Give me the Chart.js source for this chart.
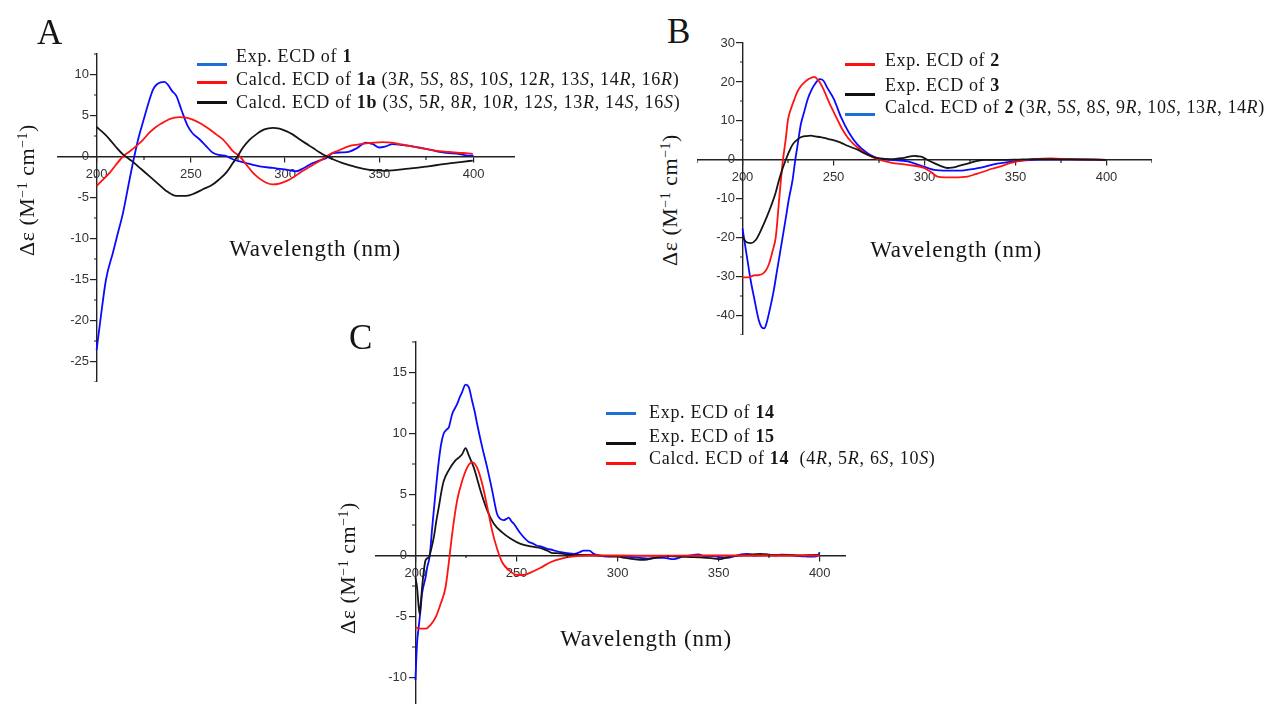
<!DOCTYPE html>
<html>
<head>
<meta charset="utf-8">
<script src="https://cdn.jsdelivr.net/npm/chart.js@4.4.1/dist/chart.umd.min.js"></script>
<style>
  html, body { margin:0; padding:0; background:#fff; overflow:hidden; }
  #page { position:relative; width:1268px; height:704px; font-family:"Liberation Serif","Times New Roman",serif; color:#161616; }
  canvas { position:absolute; }
  .t { position:absolute; white-space:nowrap; line-height:1; }
  .panel { font-size:35px; }
  .xt { font-size:23px; letter-spacing:0.8px; transform:translate(-50%,-50%); }
  .yt { font-size:22px; letter-spacing:0.5px; transform:translate(-50%,-50%) rotate(-90deg); }
  .yt sup { font-size:14px; vertical-align:7px; }
  .leg { font-size:18px; letter-spacing:0.7px; }
  .legB { letter-spacing:0.6px; }
  .sw { position:absolute; width:30px; height:3px; }
</style>
</head>
<body>
<div id="page">
  <canvas id="chA" width="458" height="338" style="left:57px;top:44px"></canvas>
  <canvas id="chB" width="455" height="302" style="left:697px;top:33px"></canvas>
  <canvas id="chC" width="471" height="376" style="left:375px;top:332px"></canvas>

  <!-- panel letters -->
  <div class="t panel" style="left:37px;top:15px">A</div>
  <div class="t panel" style="left:667px;top:14px">B</div>
  <div class="t panel" style="left:349px;top:320px">C</div>

  <!-- axis titles -->
  <div class="t xt" style="left:315px;top:248px">Wavelength (nm)</div>
  <div class="t xt" style="left:956px;top:249px">Wavelength (nm)</div>
  <div class="t xt" style="left:646px;top:638px">Wavelength (nm)</div>
  <div class="t yt" style="left:27px;top:190px">Δε (M<sup>−1</sup> cm<sup>−1</sup>)</div>
  <div class="t yt" style="left:670px;top:200px">Δε (M<sup>−1</sup> cm<sup>−1</sup>)</div>
  <div class="t yt" style="left:348px;top:568px">Δε (M<sup>−1</sup> cm<sup>−1</sup>)</div>

  <!-- legend A -->
  <div class="sw" style="left:197px;top:63px;background:#1b6fd6"></div>
  <div class="sw" style="left:197px;top:81px;background:#ff1010"></div>
  <div class="sw" style="left:197px;top:101px;background:#111"></div>
  <div class="t leg" style="left:236px;top:47px">Exp. ECD of <b>1</b></div>
  <div class="t leg" style="left:236px;top:70px">Calcd. ECD of <b>1a</b> (3<i>R</i>, 5<i>S</i>, 8<i>S</i>, 10<i>S</i>, 12<i>R</i>, 13<i>S</i>, 14<i>R</i>, 16<i>R</i>)</div>
  <div class="t leg" style="left:236px;top:93px">Calcd. ECD of <b>1b</b> (3<i>S</i>, 5<i>R</i>, 8<i>R</i>, 10<i>R</i>, 12<i>S</i>, 13<i>R</i>, 14<i>S</i>, 16<i>S</i>)</div>

  <!-- legend B -->
  <div class="sw" style="left:845px;top:63px;background:#ff1010"></div>
  <div class="sw" style="left:845px;top:93px;background:#111"></div>
  <div class="sw" style="left:845px;top:113px;background:#1b6fd6"></div>
  <div class="t leg legB" style="left:885px;top:51px">Exp. ECD of <b>2</b></div>
  <div class="t leg legB" style="left:885px;top:76px">Exp. ECD of <b>3</b></div>
  <div class="t leg legB" style="left:885px;top:98px">Calcd. ECD of <b>2</b> (3<i>R</i>, 5<i>S</i>, 8<i>S</i>, 9<i>R</i>, 10<i>S</i>, 13<i>R</i>, 14<i>R</i>)</div>

  <!-- legend C -->
  <div class="sw" style="left:606px;top:412px;background:#1b6fd6"></div>
  <div class="sw" style="left:606px;top:442px;background:#111"></div>
  <div class="sw" style="left:606px;top:462px;background:#ff1010"></div>
  <div class="t leg" style="left:649px;top:403px">Exp. ECD of <b>14</b></div>
  <div class="t leg" style="left:649px;top:427px">Exp. ECD of <b>15</b></div>
  <div class="t leg" style="left:649px;top:449px">Calcd. ECD of <b>14</b> &nbsp;(4<i>R</i>, 5<i>R</i>, 6<i>S</i>, 10<i>S</i>)</div>
</div>

<script>
// ---- Panel A data ----
const wlA1  = [200,202,205,208.7,211,214,217.5,220,222.5,225,227.5,230,232,234,236,238,240,242.3,245,248.4,251,254.6,258,261.7,265,268.8,272,275.9,281,286.5,293.5,300.6,305.9,310,314.7,318,321.8,325.3,330,334.2,338,343,346.6,350,353,357,362,366,371,376.7,381,385.5,392.6,396,400];
const expA1 = [-23.6,-20,-15,-11.7,-9.6,-6.9,-2.8,0,2.5,4.5,6.5,8.2,8.8,9.05,9.1,8.7,8.0,7.4,5.7,3.7,2.8,2.1,1.3,0.45,0.2,0.05,-0.3,-0.6,-0.9,-1.2,-1.4,-1.6,-1.8,-1.4,-0.8,-0.5,-0.2,0.4,0.5,0.6,1.0,1.7,1.5,1.1,1.2,1.5,1.4,1.3,1.1,0.85,0.6,0.45,0.3,0.15,0.1];

const wlA2  = [200,203,206.9,210,214,217.5,221,224.5,228,231.5,235,239,244,247.5,251,255.5,260,263.5,267,270,272.3,276,279.5,283,286.5,290,293.5,297,300.6,304,307.7,312,316.5,320,323.6,328,334,338.5,343,347.5,352,356.5,360.7,366,371,376.5,382,387,392.6,396,399.6];
const calA2 = [-3.6,-2.9,-2,-1.1,0,0.6,1.26,2.0,2.9,3.6,4.1,4.6,4.8,4.75,4.5,4.0,3.3,2.7,2.1,1.3,0.65,0,-1.0,-2,-2.7,-3.2,-3.4,-3.3,-3.0,-2.6,-2,-1.4,-0.8,-0.3,0.25,0.7,1.26,1.45,1.6,1.7,1.75,1.7,1.5,1.3,1.06,0.85,0.65,0.55,0.45,0.4,0.33];

const wlA3  = [200,203.5,206.9,210.5,214,219,223.5,228,232.5,237,242.3,247.6,252,256.4,261,265,269,272.3,275,277.6,281,284.7,289,293.5,297,300.6,304,307.7,311,314.7,318,321.8,326,330.6,335,339.5,344,348.4,353,357,363,369.6,376,382,388,394,399.6];
const calA3 = [3.6,2.9,2.1,1.1,0.25,-0.6,-1.5,-2.4,-3.3,-4.2,-4.8,-4.8,-4.5,-4.0,-3.5,-2.8,-1.9,-0.8,0.1,1.06,2.0,2.7,3.3,3.5,3.4,3.1,2.7,2.1,1.6,1.06,0.55,0.04,-0.4,-0.8,-1.1,-1.4,-1.6,-1.7,-1.75,-1.7,-1.55,-1.4,-1.2,-1.0,-0.8,-0.65,-0.5];

const xTicksA = [200,250,300,350,400];
const yTicksA = [-25,-20,-15,-10,-5,0,5,10];

// ---- Panel B data ----
const wlB1  = [200,203,206.4,209,211,213,214.6,216.5,218.3,220.1,222,223.8,225,226.7,228.4,230,232,234.3,236.6,239.4,242,244,245.8,248,250.4,252.7,255,258,261.4,265,268.7,274.2,281.5,290.7,299.8,304,307.1,311,316.3,323.6,328,332.8,337,341.9,346,351,355,360.3,369.4,378.6,387.7,400];
const expB1 = [-30.2,-30.2,-29.7,-29.6,-29.3,-28.3,-26.7,-23.5,-19.8,-10.4,-1.0,5.5,10.3,13.2,15.4,17.3,18.9,20.0,20.8,21.3,20.2,18.6,16.7,14.3,12,9.8,7.7,5.6,3.9,2.5,1.3,0.17,-0.7,-1.3,-2.1,-3.3,-4.3,-4.5,-4.5,-4.3,-3.7,-3.0,-2.3,-1.7,-1.0,-0.43,-0.1,0.17,0.34,0.17,0.1,0];

const wlB2  = [200,201.8,204.6,207.3,209,211,213.3,215.6,218,220.1,222,223.8,225.7,227.5,229.7,232,235,237.5,240,243,246.7,250.4,254,257.7,260.5,263.2,266,268.7,271.5,274.2,278,281.5,285,288.8,291.5,294.3,296.5,298.9,302,305.3,309,312.6,315,318,322,325.5,329,332.8,342,350,360.3,380,400];
const expB2 = [-19.7,-21,-21.4,-20.6,-19.2,-17.2,-14.7,-12,-8.8,-5.1,-2.3,0,2.2,3.9,5.0,5.8,6.1,6.2,6.0,5.8,5.4,5.0,4.4,3.6,3.1,2.6,1.9,1.3,0.8,0.43,0.25,0.17,0.3,0.5,0.8,1.0,0.9,0.7,-0.1,-0.86,-1.6,-2.1,-2.0,-1.7,-1.2,-0.7,-0.3,0,0,0.05,0.17,0.1,0];

const wlB3  = [200,202.7,204.5,206.4,209,210.5,212,213.3,214.5,217,219,221.3,223.6,225.5,227.5,229,230.5,232,234,236,238,240,242.5,244.5,246.7,250.4,254,258.6,263.2,268.7,274.2,281.5,290.7,298,305.3,312.6,321.8,331,340,349.3,360.3,378.6,400];
const calB3 = [-17.6,-25.7,-31,-35.5,-41.3,-43,-43.3,-41.8,-39.5,-34,-28.4,-22,-15.5,-10,-5.2,0,4.5,9,12.5,15.8,18,19.6,20.7,20.3,18.4,15.4,11.1,6.9,3.9,1.7,0.4,0,-0.4,-1.5,-2.6,-2.8,-2.7,-2.0,-1.0,-0.4,0,0.1,0];

const xTicksB = [200,250,300,350,400];
const yTicksB = [-40,-30,-20,-10,0,10,20,30];

// ---- Panel C data ----
const wlC1  = [200,200.8,201.6,202.5,203.3,205,205.8,207.1,208.3,209.9,211.6,212.8,214,215.3,216.5,218.2,220.6,222,223.1,224.8,226.4,228,229.3,230.5,233,235.5,238,240.4,242,243.7,245,246.2,247.5,248.7,252,256.1,258,260.2,262,265.2,268,271.8,275,278.4,281,283.2,286,288.2,291,294.8,300,304.7,308,311.3,315,319.5,323,327.8,332,337.7,340,343,347.6,351,354.2,358,361,364.1,368,371,374,378,381,385.6,390,393.9,397,399,400];
const expC1 = [-10.2,-7.2,-5.9,-4.5,-3.1,-1.8,-1.0,0,2.3,5.1,7.8,9.2,10,10.3,10.5,11.6,12.4,13,13.4,14.0,13.8,12.7,11.8,10.8,8.9,7.2,5.3,3.4,3.0,2.9,3.0,3.1,2.8,2.6,1.8,1.1,1.0,0.8,0.75,0.55,0.45,0.27,0.2,0.14,0.25,0.4,0.4,0.14,0,-0.1,-0.05,-0.1,-0.15,-0.2,-0.25,-0.2,-0.2,-0.3,-0.1,0.05,0.1,-0.05,-0.05,-0.15,-0.2,-0.05,0.1,0.14,0,0.05,0.08,0.02,0.06,0.05,-0.05,-0.08,-0.1,0,0.27];

const wlC2  = [200,200.8,201.5,202.1,202.7,203.3,205,206.6,207.8,209.1,210.3,211.6,212.8,214,216.5,219.8,222,223.1,224.8,226.4,228.9,230.5,232.2,235.5,238.8,242.9,247,252,258.6,262,265.2,268,270.1,274,278.3,285,294.8,300,304,308,311,314.6,318,324.5,330,337.7,344,348,350.9,354,357.5,364,370.7,376,382.2,390,398.8,400];
const expC2 = [-1.8,-2.6,-4.0,-4.8,-3.8,-2.6,-0.4,-0.14,0.5,1.5,2.8,4.0,5.2,6.1,7.0,7.8,8.1,8.3,8.8,8.2,7.2,6.3,5.3,3.7,2.6,1.9,1.4,0.96,0.7,0.6,0.4,0.2,0.2,0.1,0.05,0.05,-0.05,-0.1,-0.2,-0.3,-0.35,-0.33,-0.2,-0.05,-0.1,-0.14,-0.2,-0.25,-0.3,-0.15,-0.05,0.05,0.14,0.05,0.05,0,0.05,0.05];

const wlC3  = [200,202.5,205,207.4,209.9,212.4,214.9,216.5,218.2,220.6,223.1,225.6,228,230.5,233,235.5,238,240.4,242.9,246.2,250.3,253.6,256.9,261.9,266.8,271.8,278.4,285,300,320,340,360,380,400];
const calC3 = [-5.9,-6.0,-6.0,-5.7,-5.1,-4.0,-2.6,-0.6,1.8,4.5,6.1,7.2,7.65,7.2,5.9,4.0,2.0,0.55,-0.55,-1.2,-1.6,-1.6,-1.4,-1.0,-0.55,-0.27,-0.08,0,0,-0.02,0,0,0,0];

const xTicksC = [200,250,300,350,400];
const yTicksC = [-10,-5,0,5,10,15];

// ---- helpers ----
const BLUE = '#0a0aff', RED = '#ff1212', BLACK = '#151515';
const tickFont = { family: "'Liberation Sans', Arial, sans-serif", size: 13 };

function series(xs, ys, color){
  return { data: xs.map((x,i)=>({x, y: ys[i]})), borderColor: color, borderWidth: 1.8,
           pointRadius: 0, fill: false, cubicInterpolationMode: 'monotone' };
}

// midpoints between major ticks, inside the range
function mids(t, lo, hi){
  const s = t[1]-t[0], out = [];
  for(let v = t[0]-s/2; v <= hi; v += s) if(v >= lo) out.push(v);
  return out;
}

// minor ticks + y tick labels (Chart.js puts y labels on the axis line when it is placed at a value)
const axisExtras = {
  id: 'axisExtras',
  afterDraw(chart, args, o){
    const { ctx, scales:{x, y} } = chart;
    const y0 = Math.round(y.getPixelForValue(0)), x0 = Math.round(x.getPixelForValue(200));
    ctx.save();
    ctx.strokeStyle = '#222'; ctx.lineWidth = 1.2;
    ctx.beginPath();
    (o.x||[]).forEach(v=>{ const p = Math.round(x.getPixelForValue(v)); ctx.moveTo(p, y0); ctx.lineTo(p, y0+3); });
    (o.y||[]).forEach(v=>{ const p = Math.round(y.getPixelForValue(v)); ctx.moveTo(x0-3, p); ctx.lineTo(x0, p); });
    ctx.stroke();
    ctx.fillStyle = '#333';
    ctx.font = "13px 'Liberation Sans', Arial, sans-serif";
    ctx.textAlign = 'right'; ctx.textBaseline = 'middle';
    (o.labels||[]).forEach(v=> ctx.fillText(String(v), x0-8, y.getPixelForValue(v)));
    ctx.restore();
  }
};

// top padding of 10px leaves room for the top y label above the plot area
function makeChart(id, sets, xr, yr, xt, yt){
  return new Chart(document.getElementById(id), {
    type: 'line',
    data: { datasets: sets },
    options: {
      responsive: false, animation: false, events: [],
      layout: { padding: { top: 10, left: 0, right: 0, bottom: 0 } },
      plugins: { legend:{display:false}, tooltip:{enabled:false},
                 axisExtras: { x: mids(xt, xr[0], xr[1]), y: mids(yt, yr[0], yr[1]), labels: yt } },
      scales: {
        x: { type:'linear', min:xr[0], max:xr[1], position:{ y: 0 },
             afterBuildTicks: s => { s.ticks = xt.map(v=>({value:v})); },
             ticks: { font: tickFont, color:'#333', padding:5, autoSkip:false, maxRotation:0 },
             grid: { drawOnChartArea:false, tickLength:5, color:'#222', lineWidth:1.2 },
             border: { color:'#222', width:1.4 } },
        y: { type:'linear', min:yr[0], max:yr[1], position:{ x: 200 },
             afterBuildTicks: s => { s.ticks = yt.map(v=>({value:v})); },
             ticks: { display:false },
             grid: { drawOnChartArea:false, tickLength:6, color:'#222', lineWidth:1.2 },
             border: { color:'#222', width:1.4 } }
      }
    },
    plugins: [axisExtras]
  });
}

makeChart('chA', [series(wlA3, calA3, BLACK), series(wlA2, calA2, RED), series(wlA1, expA1, BLUE)],
          [179, 422], [-27.5, 12.5], xTicksA, yTicksA);
makeChart('chB', [series(wlB2, expB2, BLACK), series(wlB1, expB1, RED), series(wlB3, calB3, BLUE)],
          [175, 425], [-45, 30], xTicksB, yTicksB);
makeChart('chC', [series(wlC3, calC3, RED), series(wlC2, expC2, BLACK), series(wlC1, expC1, BLUE)],
          [180, 413], [-12.5, 17.5], xTicksC, yTicksC);
</script>
</body>
</html>
